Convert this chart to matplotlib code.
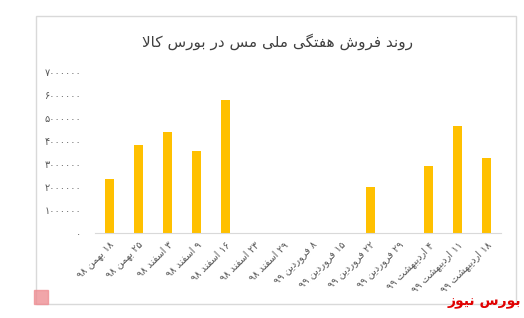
import re
import matplotlib
matplotlib.use('Agg')
import matplotlib.pyplot as plt
from matplotlib.patches import Rectangle

plt.rcParams['font.family'] = ['DejaVu Sans']

# data
labels = ['۱۸ بهمن ۹۸', '۲۵ بهمن ۹۸', '۳ اسفند ۹۸', '۹ اسفند ۹۸', '۱۶ اسفند ۹۸',
          '۲۳ اسفند ۹۸', '۲۹ اسفند ۹۸', '۸ فروردین ۹۹', '۱۵ فروردین ۹۹',
          '۲۲ فروردین ۹۹', '۲۹ فروردین ۹۹', '۴ اردیبهشت ۹۹', '۱۱ اردیبهشت ۹۹',
          '۱۸ اردیبهشت ۹۹']
values = [2370000, 3850000, 4420000, 3590000, 5810000, 0, 0, 0, 0,
          2010000, 0, 2920000, 4680000, 3270000]
yticks = [0, 1000000, 2000000, 3000000, 4000000, 5000000, 6000000, 7000000]
title = 'روند فروش هفتگی ملی مس در بورس کالا'
brand = 'بورس نیوز'

# minimal arabic shaping (isolated, final, initial, medial)
FORMS = {
    'ا': ('\uFE8D', '\uFE8E', None, None),
    'ب': ('\uFE8F', '\uFE90', '\uFE91', '\uFE92'),
    'ت': ('\uFE95', '\uFE96', '\uFE97', '\uFE98'),
    'د': ('\uFEA9', '\uFEAA', None, None),
    'ر': ('\uFEAD', '\uFEAE', None, None),
    'ز': ('\uFEAF', '\uFEB0', None, None),
    'س': ('\uFEB1', '\uFEB2', '\uFEB3', '\uFEB4'),
    'ش': ('\uFEB5', '\uFEB6', '\uFEB7', '\uFEB8'),
    'ف': ('\uFED1', '\uFED2', '\uFED3', '\uFED4'),
    'ل': ('\uFEDD', '\uFEDE', '\uFEDF', '\uFEE0'),
    'م': ('\uFEE1', '\uFEE2', '\uFEE3', '\uFEE4'),
    'ن': ('\uFEE5', '\uFEE6', '\uFEE7', '\uFEE8'),
    'ه': ('\uFEE9', '\uFEEA', '\uFEEB', '\uFEEC'),
    'و': ('\uFEED', '\uFEEE', None, None),
    'ی': ('\uFBFC', '\uFBFD', '\uFBFE', '\uFBFF'),
    'ک': ('\uFB8E', '\uFB8F', '\uFB90', '\uFB91'),
    'گ': ('\uFB92', '\uFB93', '\uFB94', '\uFB95'),
}


def shape(word):
    out = []
    i = 0
    prev_joins = False
    while i < len(word):
        c = word[i]
        if c not in FORMS:
            out.append(c)
            prev_joins = False
            i += 1
            continue
        if c == 'ل' and i + 1 < len(word) and word[i + 1] == 'ا':
            out.append('\uFEFC' if prev_joins else '\uFEFB')
            prev_joins = False
            i += 2
            continue
        iso, fin, ini, med = FORMS[c]
        nxt = word[i + 1] if i + 1 < len(word) else ''
        next_ok = ini is not None and nxt in FORMS
        if prev_joins and next_ok:
            out.append(med)
        elif prev_joins:
            out.append(fin)
        elif next_ok:
            out.append(ini)
        else:
            out.append(iso)
        prev_joins = ini is not None
        i += 1
    return ''.join(out)


def fa(s):
    tokens = re.findall(r'[\u06F0-\u06F9]+|[^\u06F0-\u06F9]+', s)
    parts = []
    for t in tokens:
        if re.fullmatch(r'[\u06F0-\u06F9]+', t):
            parts.append(t)
        else:
            parts.append(shape(t)[::-1])
    return ''.join(reversed(parts))


def fa_num(n):
    return str(n).translate(str.maketrans('0123456789', '۰۱۲۳۴۵۶۷۸۹'))


fig = plt.figure(figsize=(5.24, 3.18), dpi=100)
fig.patches.append(Rectangle((36 / 524, 14 / 318), 480 / 524, 288 / 318,
                             transform=fig.transFigure, fill=False,
                             edgecolor='#d9d9d9', linewidth=1))

ax = fig.add_axes([95 / 524, 85 / 318, 406 / 524, 160.6 / 318])
x = range(len(values))
ax.bar(x, values, width=0.31, color='#FFC000')
ax.set_xlim(-0.5, len(values) - 0.5)
ax.set_ylim(0, 7000000)
ax.set_yticks(yticks)
ax.set_yticklabels([fa_num(v) for v in yticks], fontsize=7, color='#595959')
ax.set_xticks(list(x))
ax.set_xticklabels([fa(l) for l in labels], rotation=45, ha='right', va='top',
                   rotation_mode='anchor', fontsize=7, color='#595959')
ax.tick_params(axis='both', length=0)
ax.tick_params(axis='y', pad=10)
ax.tick_params(axis='x', pad=5)
for s in ['top', 'right', 'left']:
    ax.spines[s].set_visible(False)
ax.spines['bottom'].set_color('#d9d9d9')

fig.text(278 / 524, 1 - 42 / 318, fa(title), ha='center', va='center',
         fontsize=11, color='#404040')
fig.text(521 / 524, 1 - 302 / 318, fa(brand), ha='right', va='center',
         fontsize=10, fontweight='bold', color='#e00000')

# small pink logo mark
fig.patches.append(Rectangle((34 / 524, 14 / 318), 14 / 524, 14 / 318,
                             transform=fig.transFigure, color='#ee8f94',
                             alpha=0.8))

fig.savefig('out.png', dpi=100)
